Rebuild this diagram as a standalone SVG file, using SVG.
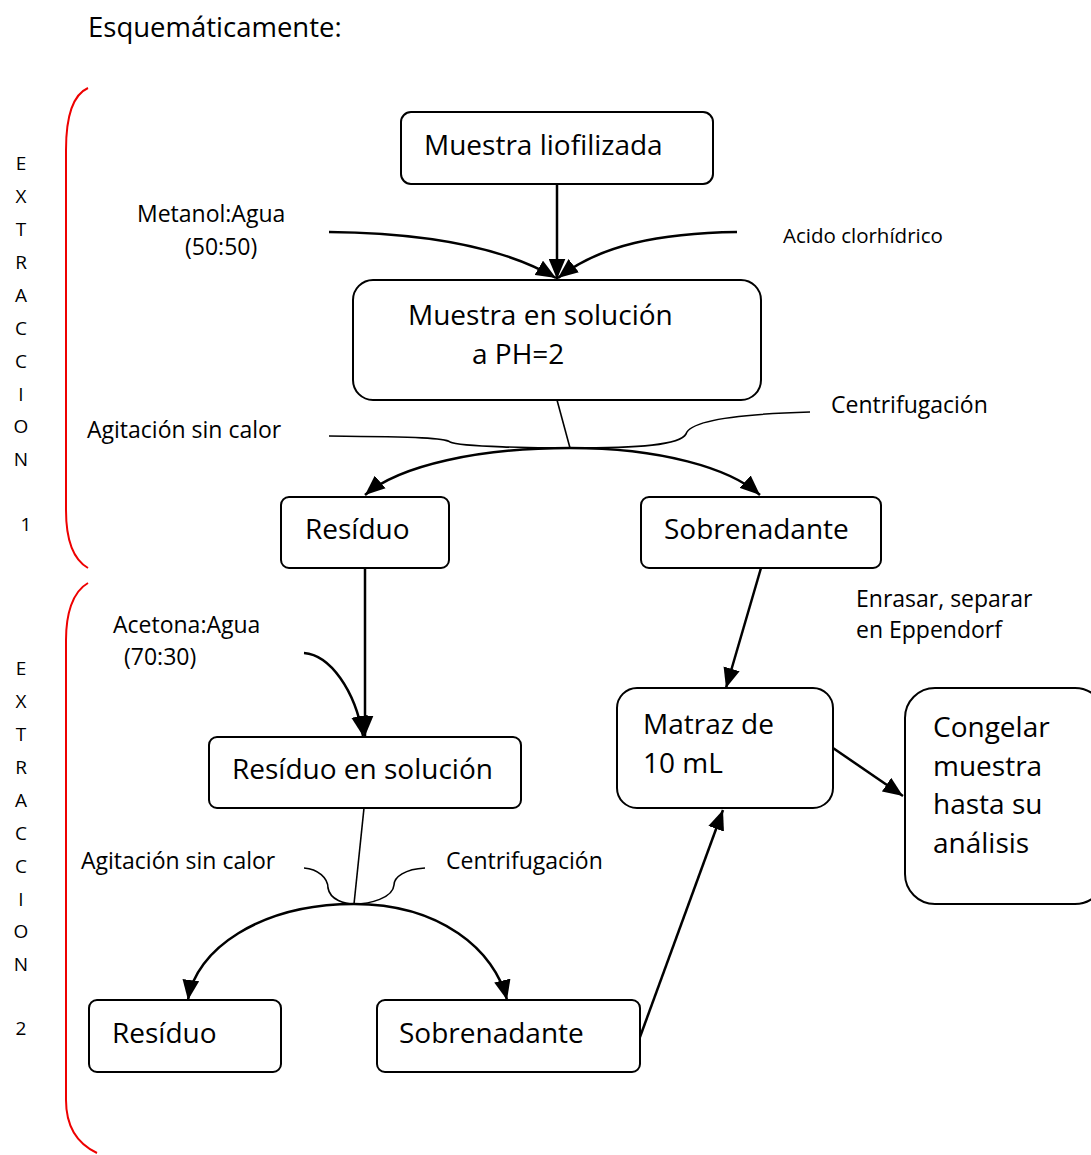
<svg xmlns="http://www.w3.org/2000/svg" width="1091" height="1155" viewBox="0 0 1091 1155">
<style>
  .box{fill:#fff;stroke:#000;stroke-width:2}
  .t{font-family:"Open Sans","Liberation Sans",Arial,sans-serif;font-size:28px;fill:#000}
  .s{font-family:"Open Sans","Liberation Sans",Arial,sans-serif;font-size:23px;fill:#000}
  .v{font-family:"Open Sans","Liberation Sans",Arial,sans-serif;font-size:19px;fill:#000;text-anchor:middle}
  .c{fill:none;stroke:#000;stroke-width:2.5}
  .thin{fill:none;stroke:#000;stroke-width:1.6}
  .red{fill:none;stroke:#e00;stroke-width:2}
</style>
<defs>
  <marker id="arr" viewBox="0 0 12 10" refX="12" refY="5" markerWidth="20" markerHeight="17" markerUnits="userSpaceOnUse" orient="auto">
    <path d="M0,0 L12,5 L0,10 Z" fill="#000"/>
  </marker>
</defs>
<rect width="1091" height="1155" fill="#fff"/>
<text class="t" x="88" y="37" style="font-size:27.5px">Esquemáticamente:</text>

<g id="brace1"><path class="red" d="M88,88 C70,96 66,125 66,150 L66,510 C66,540 74,560 88,568"/></g>
<g id="brace2"><path class="red" d="M88,583 C72,592 66,615 66,640 L66,1100 C66,1130 80,1145 97,1153"/></g>
<g id="label1">
  <text class="v" x="21" y="170">E</text><text class="v" x="21" y="203">X</text><text class="v" x="21" y="236">T</text><text class="v" x="21" y="269">R</text><text class="v" x="21" y="302">A</text><text class="v" x="21" y="335">C</text><text class="v" x="21" y="368">C</text><text class="v" x="21" y="401">I</text><text class="v" x="21" y="433">O</text><text class="v" x="21" y="466">N</text><text class="v" x="26" y="531">1</text>
</g>
<g id="label2">
  <text class="v" x="21" y="675">E</text><text class="v" x="21" y="708">X</text><text class="v" x="21" y="741">T</text><text class="v" x="21" y="774">R</text><text class="v" x="21" y="807">A</text><text class="v" x="21" y="840">C</text><text class="v" x="21" y="873">C</text><text class="v" x="21" y="906">I</text><text class="v" x="21" y="938">O</text><text class="v" x="21" y="971">N</text><text class="v" x="21" y="1035">2</text>
</g>

<g id="connectors">
  <path class="c" d="M557,184 L557,279" marker-end="url(#arr)"/>
  <path class="c" d="M329,232 C420,233 500,245 556,278" marker-end="url(#arr)"/>
  <path class="c" d="M737,232 C660,233 600,245 558,278" marker-end="url(#arr)"/>
  <path class="thin" d="M557,400 L570,448"/>
  <path class="thin" d="M329,436 C420,437 445,438 450,442 C460,447 540,448 570,448"/>
  <path class="thin" d="M570,448 C640,448 680,445 686,434 C690,420 740,414 810,412"/>
  <path class="c" d="M570,448 C480,448 400,465 365,495" marker-end="url(#arr)"/>
  <path class="c" d="M570,448 C660,448 730,468 760,495" marker-end="url(#arr)"/>
  <path class="c" d="M761,568 L726,688" marker-end="url(#arr)"/>
  <path class="c" d="M365,568 L365,736" marker-end="url(#arr)"/>
  <path class="c" d="M304,653 C330,655 355,690 363,736" marker-end="url(#arr)"/>
  <path class="thin" d="M364,808 L354,904"/>
  <path class="thin" d="M304,868 C318,869 328,878 328,888 C330,900 345,904 354,904"/>
  <path class="thin" d="M425,868 C405,869 394,877 394,885 C393,898 370,904 354,904"/>
  <path class="c" d="M354,904 C260,904 195,950 188,1000" marker-end="url(#arr)"/>
  <path class="c" d="M354,904 C440,904 495,950 507,1000" marker-end="url(#arr)"/>
  <path class="c" d="M640,1037 L723,810" marker-end="url(#arr)"/>
  <path class="c" d="M833,748 L903,796" marker-end="url(#arr)"/>
</g>

<g id="n1"><rect class="box" x="401" y="112" width="312" height="72" rx="10"/><text class="t" x="424" y="155">Muestra liofilizada</text></g>
<g id="n2"><rect class="box" x="353" y="280" width="408" height="120" rx="20"/><text class="t" x="408" y="325">Muestra en solución</text><text class="t" x="472" y="364">a PH=2</text></g>
<g id="l1"><text class="s" x="137" y="222">Metanol:Agua</text><text class="s" x="185" y="255">(50:50)</text></g>
<g id="l2"><text class="s" x="783" y="243" style="font-size:20.5px">Acido clorhídrico</text></g>
<g id="l3"><text class="s" x="87" y="438">Agitación sin calor</text></g>
<g id="l4"><text class="s" x="831" y="413">Centrifugación</text></g>
<g id="n3"><rect class="box" x="281" y="497" width="168" height="71" rx="8"/><text class="t" x="305" y="539">Resíduo</text></g>
<g id="n4"><rect class="box" x="641" y="497" width="240" height="71" rx="8"/><text class="t" x="664" y="539">Sobrenadante</text></g>
<g id="l5"><text class="s" x="856" y="607">Enrasar, separar</text><text class="s" x="856" y="638">en Eppendorf</text></g>
<g id="l6"><text class="s" x="113" y="633">Acetona:Agua</text><text class="s" x="124" y="665">(70:30)</text></g>
<g id="n5"><rect class="box" x="209" y="737" width="312" height="71" rx="8"/><text class="t" x="232" y="779">Resíduo en solución</text></g>
<g id="n6"><rect class="box" x="617" y="688" width="216" height="120" rx="20"/><text class="t" x="643" y="734">Matraz de</text><text class="t" x="643" y="773">10 mL</text></g>
<g id="n7"><rect class="box" x="905" y="688" width="200" height="216" rx="30"/><text class="t" x="933" y="737">Congelar</text><text class="t" x="933" y="776">muestra</text><text class="t" x="933" y="814">hasta su</text><text class="t" x="933" y="853">análisis</text></g>
<g id="l7"><text class="s" x="81" y="869">Agitación sin calor</text></g>
<g id="l8"><text class="s" x="446" y="869">Centrifugación</text></g>
<g id="n8"><rect class="box" x="89" y="1000" width="192" height="72" rx="8"/><text class="t" x="112" y="1043">Resíduo</text></g>
<g id="n9"><rect class="box" x="377" y="1000" width="263" height="72" rx="8"/><text class="t" x="399" y="1043">Sobrenadante</text></g>
</svg>
